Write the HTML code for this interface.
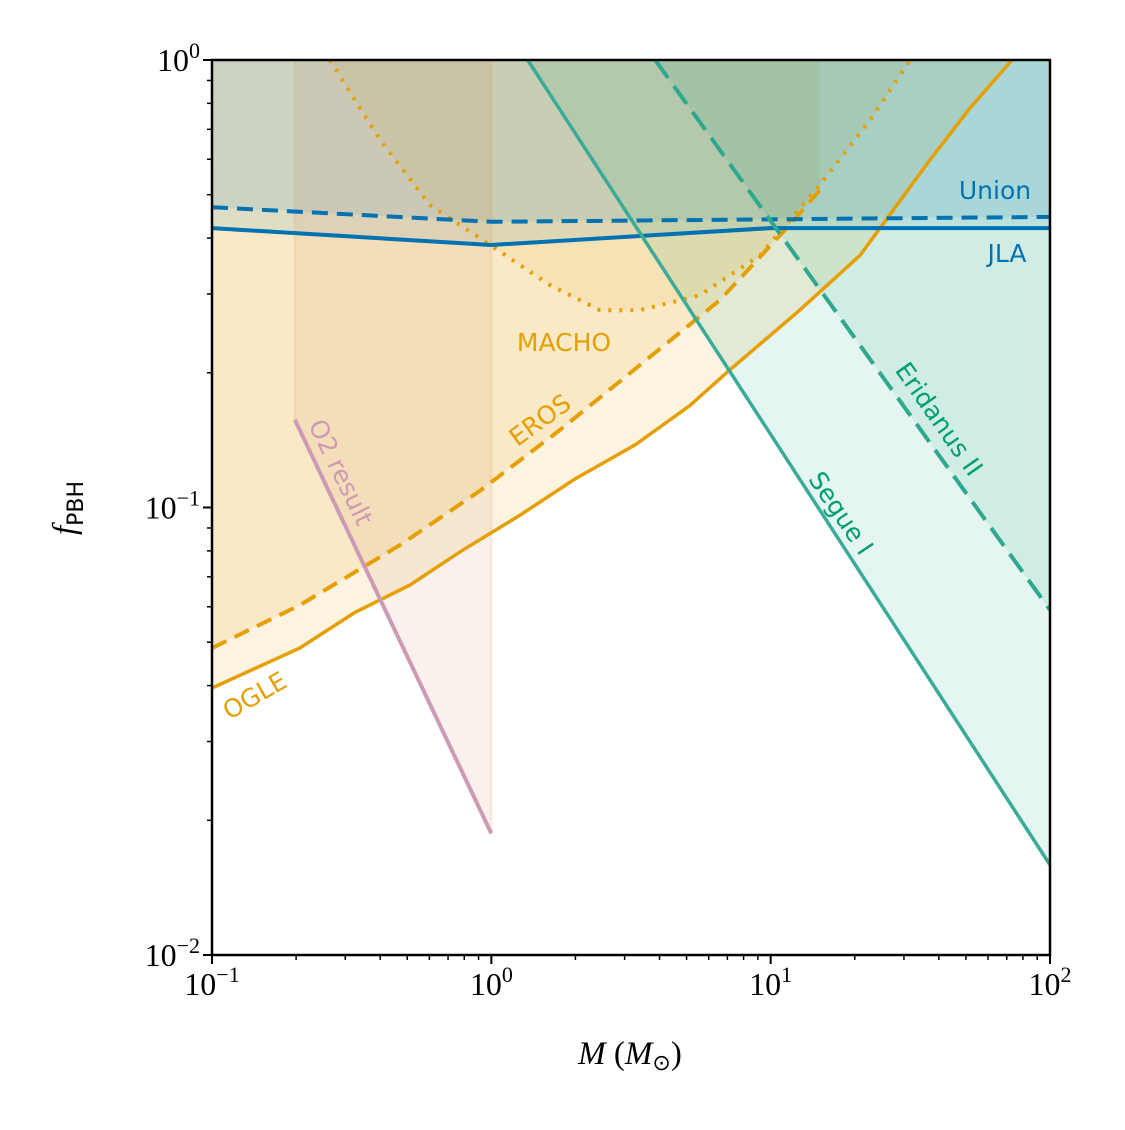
<!DOCTYPE html>
<html><head><meta charset="utf-8"><style>
body{margin:0;background:#fff;}
svg text{font-family:"Liberation Serif",serif;}
.lbl{font-family:"DejaVu Sans","Liberation Sans",sans-serif;font-size:25px;}
</style></head><body>
<svg id="chart" width="1125" height="1125" viewBox="0 0 1125 1125" xmlns="http://www.w3.org/2000/svg">
<defs><clipPath id="clip"><rect x="212" y="60" width="838" height="895"/></clipPath></defs>
<g id="fills" clip-path="url(#clip)"></g>
<g id="lines" clip-path="url(#clip)"></g>
<g id="axes"></g>
</svg>
<script>
const oglemass=[0.1,0.206,0.325,0.512,0.773,1.27,2.0,3.27,5.14,7.14,12.7,20.9,26.7,37.2,51.8,73.1];
const oglef=[0.0395,0.0485,0.0583,0.0671,0.0796,0.0962,0.116,0.138,0.169,0.203,0.276,0.366,0.451,0.598,0.782,1.0];
const erosmass=[0.1,0.206,0.471,0.91,1.76,3.40,6.59,11.7,15.0];
const erosf=[0.0485,0.0605,0.0824,0.109,0.149,0.208,0.291,0.428,0.512];
const machomass=[0.264,0.399,0.603,0.989,1.62,2.45,3.40,5.58,9.16,15.0,22.7,31.6];
const machof=[1,0.663,0.474,0.386,0.314,0.276,0.276,0.298,0.366,0.526,0.734,1];
const unionmass=[0.1,1,100];
const unionf=[0.469,0.435,0.446];
const jlamass=[0.1,1,10,100];
const jlaf=[0.421,0.386,0.421,0.421];
const seguemass=[1.35,100];
const seguef=[1,0.0159];
const eridmass=[3.86,100];
const eridf=[1,0.059];
const o2mass=[0.198,1];
const o2f=[0.157,0.0187];
const xticks=[0.1,1,10,100];
const xtickexp=["−1","0","1","2"];
const yticks=[0.01,0.1,1];
const ytickexp=["−2","−1","0"];

const X0=212,X1=1050,Y0=60,Y1=955;
const sx=m=>X0+(Math.log10(m)+1)/3*(X1-X0);
const sy=f=>Y0+(-Math.log10(f))/2*(Y1-Y0);
const NS="http://www.w3.org/2000/svg";
function mk(tag,attrs,parent){const e=document.createElementNS(NS,tag);for(const k in attrs)e.setAttribute(k,attrs[k]);document.getElementById(parent).appendChild(e);return e;}
const pts=(ms,fs)=>ms.map((m,i)=>sx(m).toFixed(1)+","+sy(fs[i]).toFixed(1));
function fillAbove(ms,fs,color,name){
  const p=pts(ms,fs);p.push(sx(ms[ms.length-1])+","+Y0);p.push(sx(ms[0])+","+Y0);
  const e=mk("polygon",{points:p.join(" "),fill:color},"fills");
  
  
}
function line(ms,fs,color,w,dash,name){
  const e=mk("polyline",{points:pts(ms,fs).join(" "),fill:"none",stroke:color,"stroke-width":w,"stroke-dasharray":dash||"none"},"lines");
  
  
}
fillAbove(oglemass,oglef,"rgba(230,159,0,0.12)","ogle-region");
fillAbove(erosmass.concat([15]),erosf.concat([1]),"rgba(230,159,0,0.11)","eros-region");
fillAbove(machomass,machof,"rgba(230,159,0,0.09)","macho-region");
fillAbove(unionmass,unionf,"rgba(0,114,178,0.09)","union-region");
fillAbove(jlamass,jlaf,"rgba(0,114,178,0.10)","jla-region");
fillAbove(eridmass.concat([100]),eridf.concat([1]),"rgba(0,158,115,0.09)","eridanus-region");
fillAbove(seguemass.concat([100]),seguef.concat([1]),"rgba(0,158,115,0.10)","segue-region");
fillAbove(o2mass.concat([1]),o2f.concat([1]),"rgba(204,121,67,0.10)","o2-region");
{const e=mk("line",{x1:sx(o2mass[0]),y1:Y0,x2:sx(o2mass[0]),y2:sy(o2f[0]),stroke:"rgba(204,140,80,0.12)","stroke-width":3},"lines");

const e2=mk("line",{x1:sx(1),y1:Y0,x2:sx(1),y2:sy(o2f[1]),stroke:"rgba(204,140,80,0.12)","stroke-width":3},"lines");
}
line(oglemass,oglef,"#E69F00",3.5,null,"ogle-line");
line(erosmass,erosf,"#E69F00",4,"16,9","eros-line");
line(machomass,machof,"#E69F00",4,"3,8","macho-line");
line(unionmass,unionf,"#0072B2",4,"16,9","union-line");
line(jlamass,jlaf,"#0072B2",4,null,"jla-line");
line(seguemass,seguef,"#3aab98",3.5,null,"segue-line");
line(eridmass,eridf,"#2ea88f",4,"22,10","eridanus-line");
line(o2mass,o2f,"#cc9ab5",4,null,"o2-line");
function lbl(t,x,y,rot,color,name){const e=mk("text",{x:x,y:y,fill:color,"text-anchor":"middle",class:"lbl",transform:`rotate(${rot} ${x} ${y})`},"lines");e.textContent=t;}
lbl("Union",995,199,0,"#0072B2","union-label");
lbl("JLA",1007,262,0,"#0072B2","jla-label");
lbl("MACHO",564,351,0,"#E69F00","macho-label");
lbl("EROS",545,427,-36,"#E69F00","eros-label");
lbl("OGLE",259,703,-30,"#E69F00","ogle-label");
lbl("O2 result",333,476,64,"#cc9ab5","o2-label");
lbl("Eridanus II",932,424,55,"#009E73","eridanus-label");
lbl("Segue I",834,518,56,"#009E73","segue-label");
{const r=mk("rect",{x:X0,y:Y0,width:X1-X0,height:Y1-Y0,fill:"none",stroke:"#000","stroke-width":2.5},"axes");}
for(let d=-1;d<2;d++)for(let k=2;k<10;k++){const x=sx(k*Math.pow(10,d));const e=mk("line",{x1:x,y1:Y1,x2:x,y2:Y1+5,stroke:"#000","stroke-width":1.5},"axes");}
for(let d=-2;d<0;d++)for(let k=2;k<10;k++){const y=sy(k*Math.pow(10,d));const e=mk("line",{x1:X0-5,y1:y,x2:X0,y2:y,stroke:"#000","stroke-width":1.5},"axes");}
xticks.forEach((v,i)=>{const x=sx(v);const t=mk("line",{x1:x,y1:Y1,x2:x,y2:Y1+9,stroke:"#000","stroke-width":2},"axes");
 const e=mk("text",{x:x,y:Y1+40,"font-size":32,"text-anchor":"middle"},"axes");e.innerHTML=`10<tspan dy="-13" font-size="22">${xtickexp[i]}</tspan>`;});
yticks.forEach((v,i)=>{const y=sy(v);const t=mk("line",{x1:X0-9,y1:y,x2:X0,y2:y,stroke:"#000","stroke-width":2},"axes");
 const e=mk("text",{x:X0-12,y:y+11,"font-size":32,"text-anchor":"end"},"axes");e.innerHTML=`10<tspan dy="-13" font-size="22">${ytickexp[i]}</tspan>`;});
{const e=mk("text",{x:630,y:1064,"font-size":33,"text-anchor":"middle"},"axes");e.innerHTML=`<tspan font-style="italic">M</tspan> (<tspan font-style="italic">M</tspan><tspan font-size="22" dy="6">⊙</tspan><tspan dy="-6">)</tspan>`;}
{const e=mk("text",{x:75,y:508,"font-size":33,"text-anchor":"middle",transform:"rotate(-90 75 508)"},"axes");e.innerHTML=`<tspan font-style="italic">f</tspan><tspan font-size="22" dy="8" font-family="DejaVu Sans">PBH</tspan>`;}
</script>
</body></html>
